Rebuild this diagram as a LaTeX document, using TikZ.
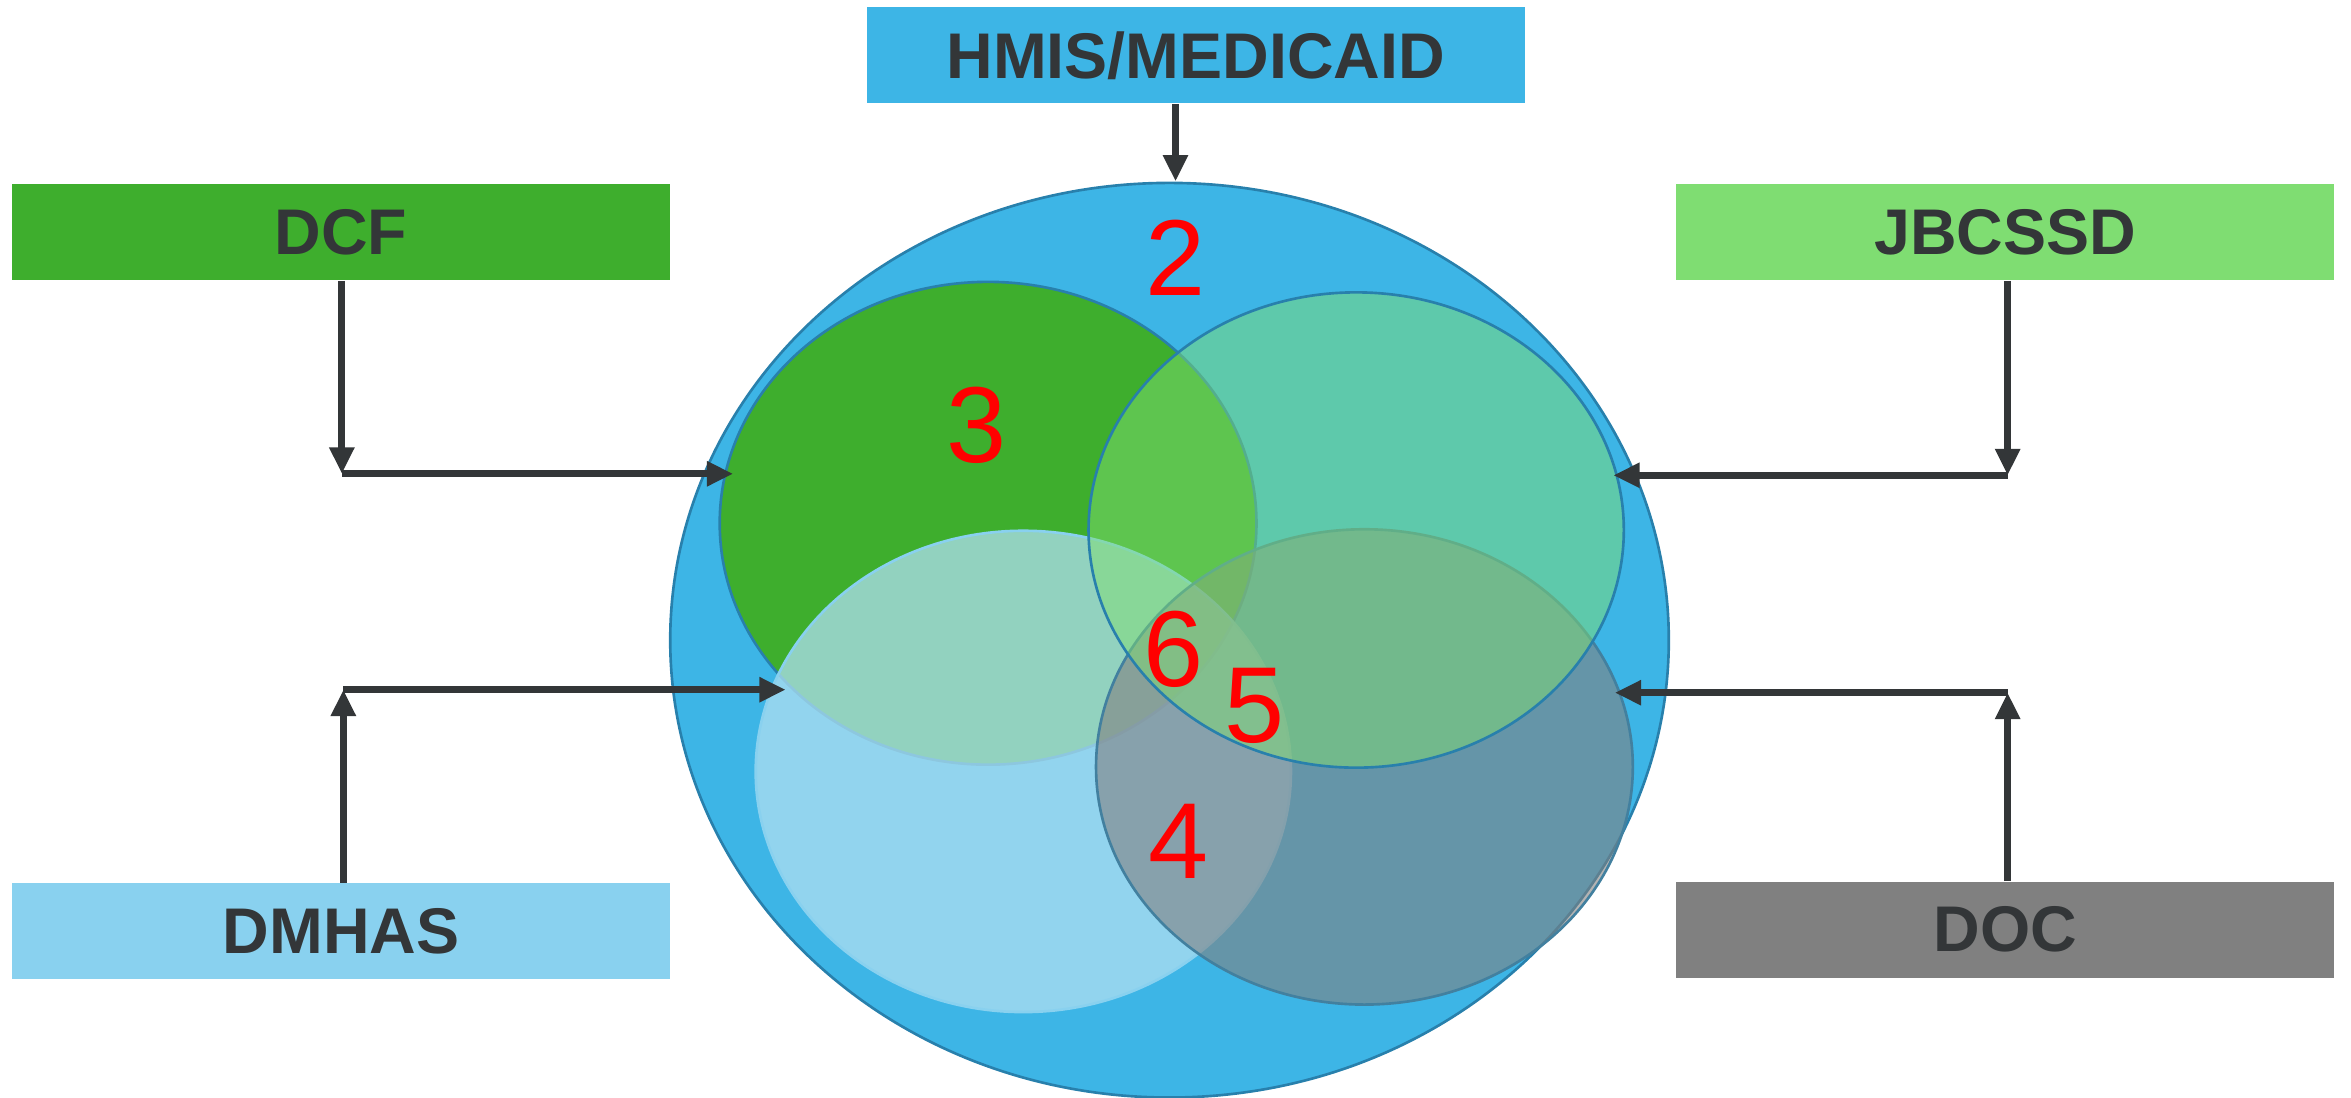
\documentclass[tikz,border=0pt]{standalone}
\usepackage{fontspec}
\setmainfont{Liberation Sans}
\usepackage{xcolor}
\usepackage{tikz}
\usetikzlibrary{arrows.meta}
\definecolor{hmisblue}{RGB}{61,181,230}
\definecolor{dcfgreen}{RGB}{62,174,45}
\definecolor{jbgreen}{RGB}{127,221,114}
\definecolor{dmhasblue}{RGB}{137,209,239}
\definecolor{dmhaslight}{RGB}{175,223,241}
\definecolor{docgray}{RGB}{128,128,128}
\definecolor{txtgray}{RGB}{51,54,56}
\definecolor{edgeblue}{RGB}{40,128,172}
\tikzset{
  agency/.style={minimum width=8.78cm,minimum height=1.28cm,inner sep=0pt,text=txtgray,font=\fontsize{24.5}{29}\selectfont\bfseries},
  link/.style={draw=txtgray,line width=2.6pt,arrows={-Triangle[length=10pt,width=9pt]}},
  region/.style={text=red,inner sep=0pt,font=\fontsize{41}{48}\selectfont},
  set/.style={line width=1pt,draw=edgeblue}
}

\begin{document}
\begin{tikzpicture}[x=0.02cm,y=-0.02cm]
\useasboundingbox(0,0)rectangle(1568,732);
%sets
\filldraw[set,fill=hmisblue](780,427)ellipse[x radius=333,y radius=305];
\filldraw[set,fill=dcfgreen](659,349)ellipse[x radius=179,y radius=161];
\filldraw[set,draw=dmhasblue,fill=dmhaslight,fill opacity=0.75](682.5,514.5)ellipse[x radius=178.5,y radius=160.5];
\filldraw[set,draw=edgeblue!70!docgray,fill=docgray,fill opacity=0.6](910,511.5)ellipse[x radius=179,y radius=158.5];
\filldraw[set,fill=jbgreen,fill opacity=0.5](904.5,353.5)ellipse[x radius=178.5,y radius=158.5];

\node[region](n2)at(784,172){2};
\node[region](n3)at(651,284){3};
\node[region](n6)at(783,433){6};
\node[region](n5)at(837,471){5};
\node[region](n4)at(786,561){4};

%agencies
\node[agency,fill=hmisblue](hmis)at(797.5,37){HMIS/MEDICAID};
\node[agency,fill=dcfgreen](dcf)at(227.5,155){DCF};
\node[agency,fill=jbgreen](jbcssd)at(1337.5,155){JBCSSD};
\node[agency,fill=dmhasblue](dmhas)at(227.5,621){DMHAS};
\node[agency,fill=docgray](doc)at(1337.5,620){DOC};

\coordinate(hmisend)at(784,121);
\coordinate(dcfturn)at(228,316);
\coordinate(dcfend)at(489,316);
\coordinate(jbturn)at(1339,317);
\coordinate(jbend)at(1076,317);
\coordinate(dmhasturn)at(229,460);
\coordinate(dmhasend)at(524,460);
\coordinate(docturn)at(1339,462);
\coordinate(docend)at(1077,462);

\draw[link](hmis.south-|hmisend)--(hmisend);
\draw[link](dcf.south-|dcfturn)--(dcfturn);
\draw[link](dcfturn)--(dcfend);
\draw[link](jbcssd.south-|jbturn)--(jbturn);
\draw[link](jbturn)--(jbend);
\draw[link](dmhas.north-|dmhasturn)--(dmhasturn);
\draw[link](dmhasturn)--(dmhasend);
\draw[link](doc.north-|docturn)--(docturn);
\draw[link](docturn)--(docend);
\end{tikzpicture}
\end{document}
